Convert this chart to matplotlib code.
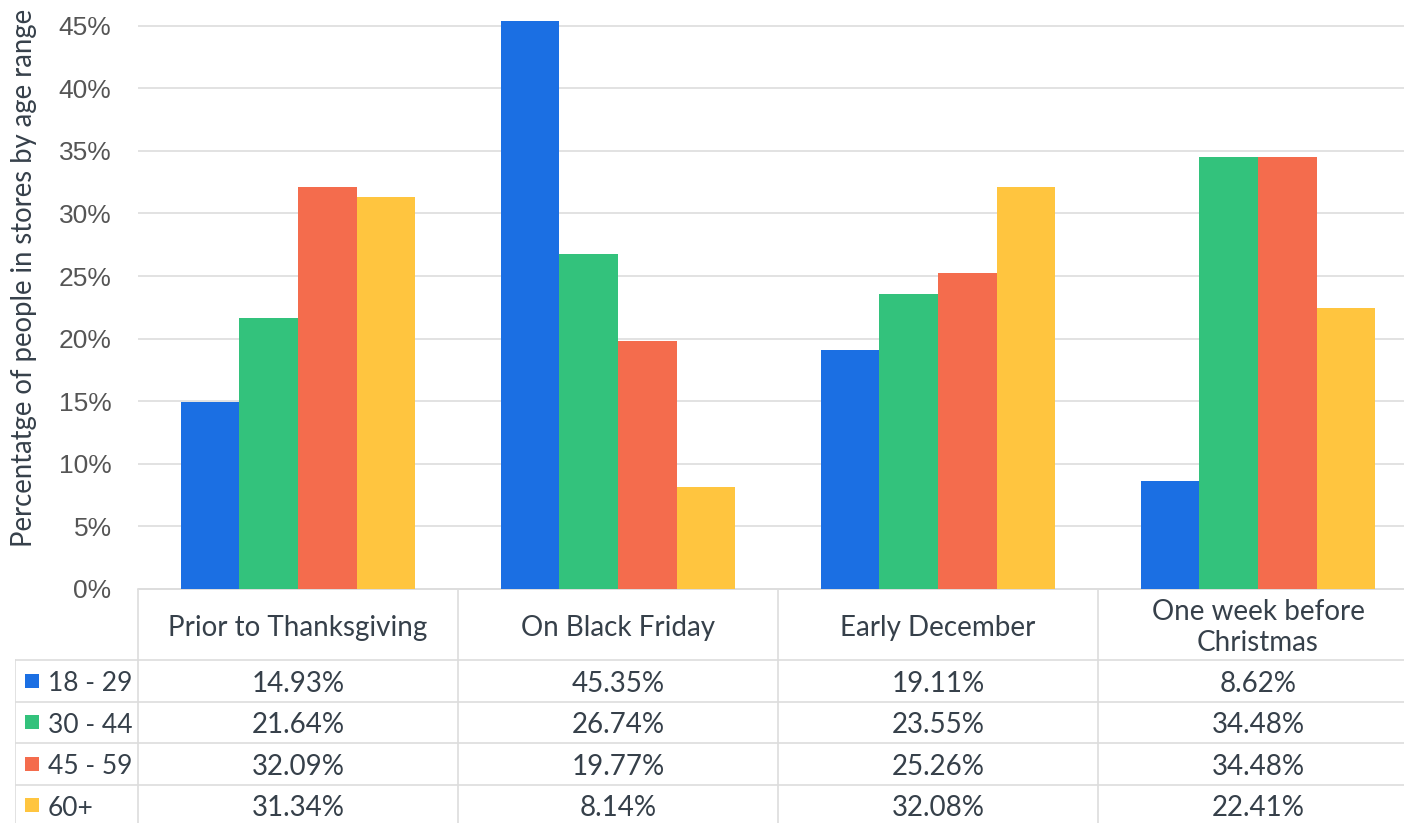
import matplotlib
matplotlib.use("Agg")
import matplotlib.pyplot as plt
import numpy as np
from matplotlib.patches import Rectangle

categories = ["Prior to Thanksgiving", "On Black Friday", "Early December", "One week before\nChristmas"]
series_names = ["18 - 29", "30 - 44", "45 - 59", "60+"]
v_18_29 = [14.93, 45.35, 19.11, 8.62]
v_30_44 = [21.64, 26.74, 23.55, 34.48]
v_45_59 = [32.09, 19.77, 25.26, 34.48]
v_60p = [31.34, 8.14, 32.08, 22.41]
series_values = [v_18_29, v_30_44, v_45_59, v_60p]
colors = ["#1b6fe3", "#33c27c", "#f46c4d", "#ffc53f"]
yticks = [0, 5, 10, 15, 20, 25, 30, 35, 40, 45]

W, H = 1404, 823
fig = plt.figure(figsize=(W / 100, H / 100), dpi=100)

# pixel layout
ax_left, ax_right, ax_bottom, ax_top = 138, 1418, 589, 0
ax = fig.add_axes([ax_left / W, 1 - ax_bottom / H, (ax_right - ax_left) / W, (ax_bottom - ax_top) / H])
n = len(categories)
x = np.arange(n)
bw = 0.183
for i, (vals, c) in enumerate(zip(series_values, colors)):
    ax.bar(x + (i - 1.5) * bw, vals, width=bw, color=c, zorder=3, linewidth=0)
ax.set_xlim(-0.5, n - 0.5)
ax.set_ylim(0, 589 / 12.52)
ax.set_yticks(yticks)
ax.set_yticklabels([f"{t}%" for t in yticks], fontsize=19, color="#555555", family="Liberation Sans")
ax.tick_params(axis="y", length=0, pad=19)
ax.set_xticks([])
ax.grid(axis="y", color="#dddddd", linewidth=1.2, zorder=0)
for s in ["top", "right", "left"]:
    ax.spines[s].set_visible(False)
ax.spines["bottom"].set_color("#dddddd")
ax.spines["bottom"].set_linewidth(1.2)
ax.set_ylabel("Percentatge of people in stores by age range", fontsize=19.8, color="#36404a",
              family="Lato")
ax.yaxis.set_label_coords(-(138 - 37) / (ax_right - ax_left), 1 - 278 / 589)

# table axes
t_left, t_top, t_bottom = 15, 589, 826
tax = fig.add_axes([t_left / W, 1 - t_bottom / H, (ax_right - t_left) / W, (t_bottom - t_top) / H])
lab_w = (ax_left - t_left) / 320.0
tax.set_xlim(-0.5 - lab_w, n - 0.5)
tax.set_ylim(t_bottom - t_top, 0)
tax.axis("off")
header_h = 71
row_h = 41.5
gc = "#dddddd"
txtc = "#36404a"
fs = 20
# horizontal lines
tax.plot([-0.5, n - 0.5], [0, 0], color=gc, lw=1.2)
for r in range(len(series_names) + 1):
    yy = header_h + r * row_h
    tax.plot([-0.5 - lab_w, n - 0.5], [yy, yy], color=gc, lw=1.2)
# vertical lines
for k in range(n + 1):
    tax.plot([k - 0.5, k - 0.5], [0, t_bottom - t_top], color=gc, lw=1.2)
tax.plot([-0.5 - lab_w, -0.5 - lab_w], [header_h, t_bottom - t_top], color=gc, lw=1.2)
# header text
for k, cat in enumerate(categories):
    tax.text(k, header_h / 2 + 3, cat, ha="center", va="center", fontsize=fs, color=txtc,
             family="Lato", linespacing=1.2)
# rows
for r, (name, vals, c) in enumerate(zip(series_names, series_values, colors)):
    yc = header_h + (r + 0.5) * row_h
    tax.add_patch(Rectangle((-0.5 - lab_w + 10 / 320, yc - 7), 14 / 320, 14, color=c, lw=0))
    tax.text(-0.5 - lab_w + 33 / 320, yc + 3, name, ha="left", va="center", fontsize=19,
             color=txtc, family="Lato")
    for k, v in enumerate(vals):
        tax.text(k, yc + 3, f"{v:.2f}%", ha="center", va="center", fontsize=fs, color=txtc,
                 family="Lato")

fig.savefig("out.png", dpi=100)
